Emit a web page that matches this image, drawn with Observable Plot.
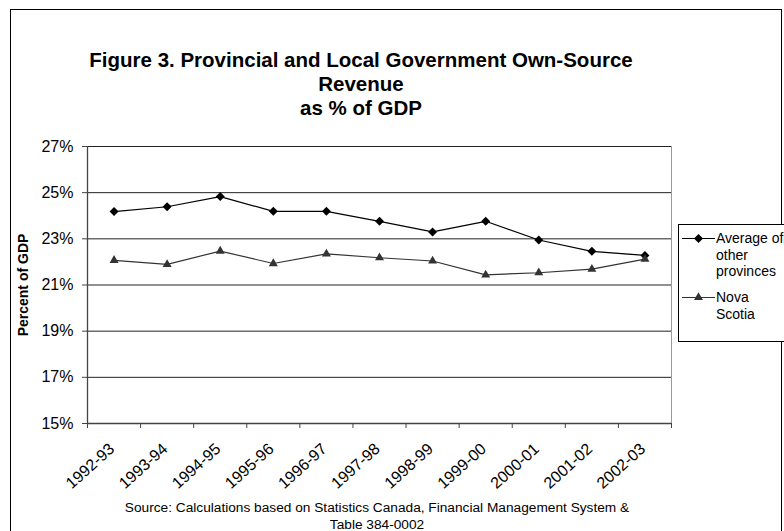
<!DOCTYPE html>
<html>
<head>
<meta charset="utf-8">
<script src="https://cdn.jsdelivr.net/npm/d3@7"></script>
<script src="https://cdn.jsdelivr.net/npm/@observablehq/plot@0.6"></script>
<style>
  html, body { margin: 0; padding: 0; background: #fff; }
  body { width: 784px; height: 531px; overflow: hidden; font-family: "Liberation Sans", Arial, sans-serif; color: #000; }
  #wrap { position: relative; width: 784px; height: 531px; overflow: hidden; }
  #border { position: absolute; left: 10px; top: 9px; width: 772px; height: 560px; border: 1px solid #000; box-sizing: border-box; }
  #title { position: absolute; left: 0; top: 48px; width: 722px; text-align: center; font-weight: bold; font-size: 20.5px; line-height: 24px; }
  #chart { position: absolute; left: 0; top: 120px; }
  #legend { position: absolute; left: 678px; top: 224px; width: 120px; height: 118px; border: 1px solid #000; box-sizing: border-box; background: #fff; }
  .item { position: absolute; left: 3px; display: flex; align-items: flex-start; }
  .item svg { flex: none; margin-top: 0px; }
  .item .lab { font-size: 14px; line-height: 16.5px; margin-left: 1px; }
  #caption { position: absolute; left: 0; top: 499px; width: 754px; text-align: center; font-size: 13.7px; line-height: 17px; }
</style>
</head>
<body>
<div id="wrap">
  <div id="border"></div>
  <div id="title"></div>
  <div id="chart"></div>
  <div id="legend"></div>
  <div id="caption"></div>
</div>
<script>
const titleLines = ["Figure 3. Provincial and Local Government Own-Source", "Revenue", "as % of GDP"];
const captionLines = ["Source: Calculations based on Statistics Canada, Financial Management System &", "Table 384-0002"];
const yLabel = "Percent of GDP";
const categories = ["1992-93","1993-94","1994-95","1995-96","1996-97","1997-98","1998-99","1999-00","2000-01","2001-02","2002-03"];
const avgValues = [24.18, 24.39, 24.83, 24.19, 24.19, 23.76, 23.30, 23.76, 22.95, 22.46, 22.28];
const nsValues  = [22.07, 21.89, 22.47, 21.93, 22.35, 22.18, 22.04, 21.44, 21.53, 21.69, 22.12];
const yTicks = [15, 17, 19, 21, 23, 25, 27];
const seriesNames = ["Average of\nother\nprovinces", "Nova\nScotia"];

document.getElementById("title").innerHTML = titleLines.join("<br>");
document.getElementById("caption").innerHTML = captionLines.join("<br>");

const data = categories.map((c, i) => ({i, c, avg: avgValues[i], ns: nsValues[i]}));
const xPos = d => d.i + 0.5;

const chart = Plot.plot({
  width: 700,
  height: 380,
  marginLeft: 87,
  marginRight: 29,
  marginTop: 26,
  marginBottom: 77,
  style: {fontFamily: "'Liberation Sans', Arial, sans-serif", fontSize: "16px", color: "#000", background: "transparent", overflow: "visible"},
  x: {type: "linear", domain: [0, categories.length]},
  y: {domain: [yTicks[0], yTicks[yTicks.length - 1]]},
  marks: [
    Plot.frame({stroke: "#999"}),
    Plot.ruleY(yTicks.slice(1), {stroke: "#222", strokeWidth: 1}),
    Plot.ruleX([0], {stroke: "#444", strokeWidth: 1.3}),
    Plot.ruleY([yTicks[0]], {stroke: "#444", strokeWidth: 1.5}),
    Plot.axisY({ticks: yTicks, tickFormat: d => d + "%", tickSize: 5, tickPadding: 9, stroke: "#444", label: null, fontSize: 16}),
    Plot.axisY({ticks: yTicks, tickFormat: () => "", tickSize: 0, label: yLabel, labelAnchor: "center", labelOffset: 69, labelArrow: "none", fontWeight: "bold", fontSize: 14}),
    Plot.axisX({ticks: d3.range(0, categories.length + 1), tickFormat: () => "", tickSize: 5, stroke: "#444", label: null}),
    Plot.axisX({ticks: categories.map((c, i) => i + 0.5), tickFormat: d => categories[Math.floor(d)], tickSize: 0, tickPadding: 23, dx: -2, tickRotate: -42, label: null, fontSize: 16}),
    Plot.line(data, {x: xPos, y: "avg", stroke: "#000", strokeWidth: 1.2}),
    Plot.dot(data, {x: xPos, y: "avg", symbol: "diamond2", r: 4.05, fill: "#000", stroke: "none"}),
    Plot.line(data, {x: xPos, y: "ns", stroke: "#333", strokeWidth: 1.2}),
    Plot.dot(data, {x: xPos, y: "ns", symbol: "triangle", r: 3.34, fill: "#333", stroke: "none"})
  ]
});
document.getElementById("chart").appendChild(chart);

// Legend
const legend = document.getElementById("legend");
const swatches = [
  {top: 5, color: "#000", symbol: d3.symbolDiamond2, size: Math.PI * 4.05 * 4.05},
  {top: 64, color: "#333", symbol: d3.symbolTriangle, size: Math.PI * 3.34 * 3.34}
];
swatches.forEach((s, k) => {
  const item = document.createElement("div");
  item.className = "item";
  item.style.top = s.top + "px";
  const ns = "http://www.w3.org/2000/svg";
  const svg = document.createElementNS(ns, "svg");
  svg.setAttribute("width", 33);
  svg.setAttribute("height", 17);
  const ln = document.createElementNS(ns, "line");
  ln.setAttribute("x1", 0); ln.setAttribute("x2", 33);
  ln.setAttribute("y1", 8.5); ln.setAttribute("y2", 8.5);
  ln.setAttribute("stroke", s.color); ln.setAttribute("stroke-width", 1.2);
  svg.appendChild(ln);
  const p = document.createElementNS(ns, "path");
  p.setAttribute("d", d3.symbol(s.symbol, s.size)());
  p.setAttribute("transform", "translate(16.5,8.5)");
  p.setAttribute("fill", s.color);
  svg.appendChild(p);
  item.appendChild(svg);
  const lab = document.createElement("div");
  lab.className = "lab";
  lab.innerHTML = seriesNames[k].split("\n").join("<br>");
  item.appendChild(lab);
  legend.appendChild(item);
});
</script>
</body>
</html>
